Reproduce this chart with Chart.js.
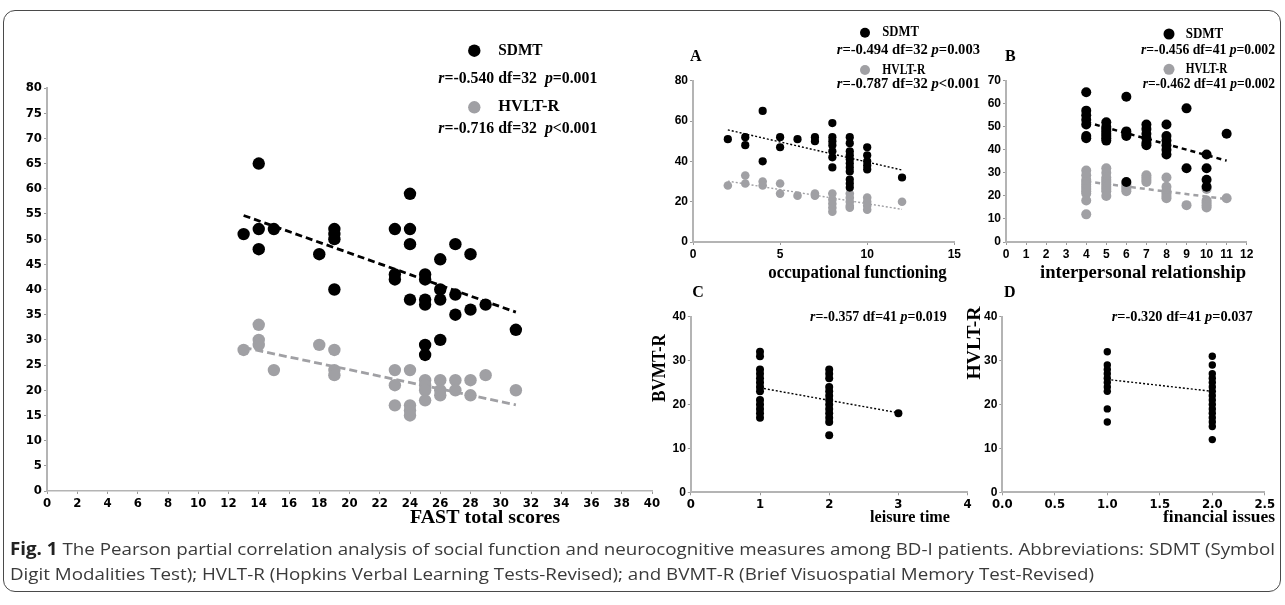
<!DOCTYPE html>
<html><head><meta charset="utf-8">
<script src="https://cdn.jsdelivr.net/npm/chart.js@4.4.1/dist/chart.umd.min.js"></script>
<style>
html,body{margin:0;padding:0;background:#fff;width:1285px;height:605px;overflow:hidden;}
.frame{position:absolute;left:3px;top:10px;width:1278px;height:582px;border:1.5px solid #4a4a4a;border-radius:12px;box-sizing:border-box;}
.box{position:absolute;}
.cap{position:absolute;left:10px;white-space:nowrap;font-family:'Open Sans',sans-serif;font-size:17px;color:#3a3a3a;transform-origin:0 50%;line-height:20px;}
.cap b{color:#222;}
</style></head><body>
<div class="frame"></div>
<div class="box" id="bMain"><canvas id="cMain"></canvas></div>
<div class="box" id="bA"><canvas id="cA"></canvas></div>
<div class="box" id="bB"><canvas id="cB"></canvas></div>
<div class="box" id="bC"><canvas id="cC"></canvas></div>
<div class="box" id="bD"><canvas id="cD"></canvas></div>
<div class="cap" id="cap1" style="top:539px"><b>Fig. 1</b> The Pearson partial correlation analysis of social function and neurocognitive measures among BD-I patients. Abbreviations: SDMT (Symbol</div>
<div class="cap" id="cap2" style="top:564px">Digit Modalities Test); HVLT-R (Hopkins Verbal Learning Tests-Revised); and BVMT-R (Brief Visuospatial Memory Test-Revised)</div>
<script>
// ---------- DATA ----------
const mainSDMT = [[13,51],[14,65],[14,52],[14,48],[15,52],[18,47],[19,52],[19,51],[19,50],[19,40],[23,52],[23,43],[23,42],[24,59],[24,52],[24,49],[24,38],[25,43],[25,42],[25,38],[25,37],[25,29],[25,27],[26,46],[26,40],[26,38],[26,30],[27,49],[27,39],[27,35],[28,47],[28,36],[29,37],[31,32]];
const mainHVLT = [[13,28],[14,33],[14,30],[14,29],[15,24],[18,29],[19,28],[19,24],[19,23],[23,24],[23,21],[23,17],[24,24],[24,17],[24,16],[24,15],[25,22],[25,21],[25,20],[25,18],[26,22],[26,20],[26,19],[27,22],[27,20],[28,22],[28,19],[29,23],[31,20]];
const mainSDMTFit = [[13,54.7],[31,35.5]];
const mainHVLTFit = [[13,28.5],[31,17.1]];

const aSDMT = [[2,51],[3,52],[3,48],[4,65],[4,40],[5,52],[5,47],[6,51],[7,52],[7,50],[8,59],[8,52],[8,50],[8,48],[8,45],[8,42],[8,37],[9,52],[9,49],[9,45],[9,43],[9,41],[9,39],[9,37],[9,35],[9,31],[9,29],[9,27],[10,47],[10,43],[10,40],[10,38],[10,36],[12,32]];
const aHVLT = [[2,28],[3,33],[3,29],[4,30],[4,28],[5,29],[5,24],[6,23],[7,24],[7,23],[8,24],[8,21],[8,19],[8,17],[8,15],[9,24],[9,22],[9,20],[9,18],[9,17],[10,22],[10,20],[10,18],[10,16],[12,20]];
const aSDMTFit = [[2,55.6],[12,35.7]];
const aHVLTFit = [[2,30.2],[12,16.2]];

const bSDMT = [[4,65],[4,57],[4,55],[4,53],[4,51],[4,46],[4,45],[5,52],[5,50],[5,49],[5,48],[5,47],[5,46],[5,45],[5,44],[6,63],[6,48],[6,47],[6,46],[6,26],[7,51],[7,49],[7,47],[7,45],[7,43],[7,42],[8,51],[8,46],[8,44],[8,42],[8,40],[8,38],[9,58],[9,32],[10,38],[10,32],[10,27],[10,24],[11,47]];
const bHVLT = [[4,31],[4,29],[4,27],[4,26],[4,25],[4,24],[4,23],[4,22],[4,21],[4,18],[4,12],[5,32],[5,30],[5,28],[5,27],[5,26],[5,25],[5,24],[5,23],[5,22],[5,20],[6,25],[6,24],[6,23],[6,22],[7,29],[7,28],[7,27],[7,26],[8,28],[8,24],[8,22],[8,21],[8,20],[8,19],[9,16],[10,23],[10,18],[10,17],[10,16],[10,15],[11,19]];
const bSDMTFit = [[4,52.0],[11,35.3]];
const bHVLTFit = [[4,26.3],[11,18.6]];

const cBVMT = [[1,32],[1,31],[1,28],[1,27],[1,26],[1,25],[1,24],[1,23],[1,21],[1,20],[1,19],[1,18],[1,17],[2,28],[2,27],[2,26],[2,24],[2,23],[2,22],[2,21],[2,20],[2,19],[2,18],[2,17],[2,16],[2,13],[3,18]];
const cFit = [[1,23.8],[3,18.1]];

const dHVLT = [[1,32],[1,29],[1,28],[1,27],[1,26],[1,25],[1,24],[1,23],[1,19],[1,16],[2,31],[2,29],[2,27],[2,26],[2,25],[2,24],[2,23],[2,22],[2,21],[2,20],[2,19],[2,18],[2,17],[2,16],[2,15],[2,12]];
const dFit = [[1,25.7],[2,23.0]];

const BLACK = '#000000', GRAY = '#a0a0a4';

// ---------- helpers ----------
const SERIF = '"Liberation Serif","Times New Roman",serif';
function stat(r, df, op, p){ return [{t:'r',it:true},{t:'=-'+r+' df='+df+'  '},{t:'p',it:true},{t:op+p}]; }
function stat1(r, df, op, p){ return [{t:'r',it:true},{t:'=-'+r+' df='+df+' '},{t:'p',it:true},{t:op+p}]; }

const annotPlugin = {
  id:'annot',
  afterDraw(chart, args, o){
    const ctx = chart.ctx;
    (o.items||[]).forEach(it=>{
      ctx.save();
      const x = it.x - o.ox, y = it.y - o.oy;
      if(it.kind==='dot'){
        ctx.fillStyle = it.color; ctx.beginPath(); ctx.arc(x,y,it.r,0,Math.PI*2); ctx.fill();
      } else {
        const size = it.size||16;
        const segs = it.segs || [{t:it.text}];
        const fnt = s => (s.it?'italic ':'')+'bold '+size+'px '+(it.family||SERIF);
        let nat = 0;
        segs.forEach(s=>{ctx.font=fnt(s); nat += ctx.measureText(s.t).width;});
        const sx = it.w ? it.w/nat : 1;
        ctx.fillStyle = it.color||'#000';
        ctx.textBaseline='middle';
        ctx.textAlign='left';
        ctx.translate(x,y);
        if(it.rot) ctx.rotate(-Math.PI/2);
        ctx.scale(sx,1);
        let cx = it.center ? -nat/2 : 0;
        segs.forEach(s=>{ctx.font=fnt(s); ctx.fillText(s.t,cx,0); cx += ctx.measureText(s.t).width;});
      }
      ctx.restore();
    });
  }
};

function pts(a){ return a.map(p=>({x:p[0],y:p[1]})); }
function scatterDs(a,color,r){ return {data:pts(a),backgroundColor:color,borderWidth:0,pointRadius:r,pointHoverRadius:r,showLine:false}; }
function lineDs(a,color,w,dash){ return {data:pts(a),borderColor:color,borderWidth:w,borderDash:dash,pointRadius:0,showLine:true,fill:false}; }

function axis(min,max,step,w,h,font,isX,fmt,borderW){
  return {
    type:'linear',min,max,
    ticks:{stepSize:step,color:'#000',font,padding:2,autoSkip:false,maxRotation:0,
      callback:v=>fmt?fmt(v):String(v)},
    grid:{display:true,drawOnChartArea:false,drawTicks:true,tickLength:3,color:'#9a9a9a',lineWidth:1},
    border:{display:true,color:'#b4b4b4',width:borderW||2},
    afterFit(s){ if(isX) s.height=h; else s.width=w; }
  };
}

function panel(id, box, datasets, xs, ys, items){
  const holder = document.getElementById('b'+id);
  holder.style.cssText = `left:${box.l}px;top:${box.t}px;width:${box.w}px;height:${box.h}px`;
  const cv = document.getElementById('c'+id);
  cv.width = box.w; cv.height = box.h;
  cv.style.width = box.w+'px'; cv.style.height = box.h+'px';
  new Chart(cv,{
    type:'scatter',
    data:{datasets},
    options:{
      responsive:false,animation:false,devicePixelRatio:1,
      layout:{padding:{left:0,top:box.pt,right:box.pr,bottom:box.pb}},
      plugins:{legend:{display:false},tooltip:{enabled:false},annot:{items,ox:box.l,oy:box.t}},
      scales:{x:xs,y:ys}
    },
    plugins:[annotPlugin]
  });
}

const NARROW = {family:'"Liberation Sans Narrow","DejaVu Sans Condensed",sans-serif',size:13,weight:'bold'};
const REG = {family:'"Liberation Sans",Arial,sans-serif',size:12,weight:'bold'};

// Main
panel('Main',{l:0,t:0,w:680,h:540,pt:88,pr:28,pb:27},
  [scatterDs(mainSDMT,BLACK,6.2),scatterDs(mainHVLT,GRAY,6.2),
   lineDs(mainSDMTFit,BLACK,2.8,[7,4]),lineDs(mainHVLTFit,GRAY,2.8,[8,4])],
  axis(0,40,2,0,22,NARROW,true,null,1.5),
  axis(0,80,5,47,0,NARROW,false),
  [
    {kind:'dot',x:474.3,y:50.7,r:6.2,color:BLACK},
    {text:'SDMT',x:498.3,y:50.7,w:44.3,size:16},
    {segs:stat('0.540',32,'=','0.001'),x:438.3,y:79.3,w:159,size:16},
    {kind:'dot',x:474.3,y:107.3,r:6.2,color:GRAY},
    {text:'HVLT-R',x:498.3,y:107.3,w:61,size:16},
    {segs:stat('0.716',32,'<','0.001'),x:438.3,y:129.3,w:159,size:16},
    {text:'FAST total scores',x:485,y:518,w:150,size:18,center:true}
  ]);

// A
panel('A',{l:655,t:0,w:330,h:290,pt:80.7,pr:30.7,pb:26},
  [scatterDs(aSDMT,BLACK,4.1),scatterDs(aHVLT,GRAY,4.3),
   lineDs(aSDMTFit,BLACK,1.4,[2,2]),lineDs(aHVLTFit,GRAY,1.4,[2,2])],
  axis(0,15,5,0,22,REG,true),
  axis(0,80,20,38,0,REG,false),
  [
    {kind:'dot',x:865,y:32.7,r:5,color:BLACK},
    {text:'SDMT',x:882.3,y:32.7,w:36.7,size:14},
    {segs:stat1('0.494',32,'=','0.003'),x:836.7,y:50,w:143.3,size:14},
    {kind:'dot',x:865,y:70,r:5,color:GRAY},
    {text:'HVLT-R',x:882.3,y:70,w:43,size:14},
    {segs:stat1('0.787',32,'<','0.001'),x:836.7,y:84,w:143.3,size:14},
    {text:'A',x:690,y:57,size:16},
    {text:'occupational functioning',x:768.3,y:273,w:178.4,size:18}
  ]);

// B
panel('B',{l:970,t:0,w:310,h:290,pt:80.7,pr:33.3,pb:26},
  [scatterDs(bSDMT,BLACK,5),scatterDs(bHVLT,GRAY,5),
   lineDs(bSDMTFit,BLACK,2.5,[5,4]),lineDs(bHVLTFit,GRAY,2.5,[5,4])],
  axis(0,12,1,0,22,REG,true),
  axis(0,70,10,36,0,REG,false),
  [
    {kind:'dot',x:1169,y:34,r:5.5,color:BLACK},
    {text:'SDMT',x:1185.7,y:34,w:37.6,size:14},
    {segs:stat1('0.456',41,'=','0.002'),x:1141,y:50,w:134,size:14},
    {kind:'dot',x:1169,y:69.3,r:5.5,color:GRAY},
    {text:'HVLT-R',x:1185.7,y:69.3,w:41.6,size:14},
    {segs:stat1('0.462',41,'=','0.002'),x:1142.7,y:84,w:132.3,size:14},
    {text:'B',x:1005,y:56.7,size:16},
    {text:'interpersonal relationship',x:1040,y:273,w:206,size:18}
  ]);

// C
panel('C',{l:640,t:285,w:345,h:250,pt:31.7,pr:17.4,pb:20.7},
  [scatterDs(cBVMT,BLACK,4),lineDs(cFit,BLACK,1.4,[2,2])],
  axis(0,4,1,0,22,NARROW,true),
  axis(0,40,10,50.8,0,REG,false),
  [
    {segs:stat1('0.357',41,'=','0.019'),x:810,y:317.7,w:136.7,size:14},
    {text:'C',x:692.3,y:293,size:16},
    {text:'BVMT-R',x:660,y:368,w:68,size:19,rot:true,center:true},
    {text:'leisure time',x:910,y:518,w:80,size:16,center:true}
  ]);

// D
panel('D',{l:955,t:285,w:325,h:250,pt:31.7,pr:15.2,pb:20.7},
  [scatterDs(dHVLT,BLACK,3.7),lineDs(dFit,BLACK,1.4,[2,2])],
  axis(0,2.5,0.5,0,22,NARROW,true,v=>v.toFixed(1)),
  axis(0,40,10,47.3,0,REG,false),
  [
    {segs:stat1('0.320',41,'=','0.037'),x:1111.7,y:317.7,w:141,size:14},
    {text:'D',x:1004,y:293,size:16},
    {text:'HVLT-R',x:975,y:343,w:73,size:19,rot:true,center:true},
    {text:'financial issues',x:1219,y:518,w:112,size:16,center:true}
  ]);

// caption fit
(function(){
  const c1=document.getElementById('cap1'), c2=document.getElementById('cap2');
  const s = 1265 / c1.getBoundingClientRect().width;
  c1.style.transform = `scaleX(${s})`; c2.style.transform = `scaleX(${s})`;
})();
</script>
</body></html>
